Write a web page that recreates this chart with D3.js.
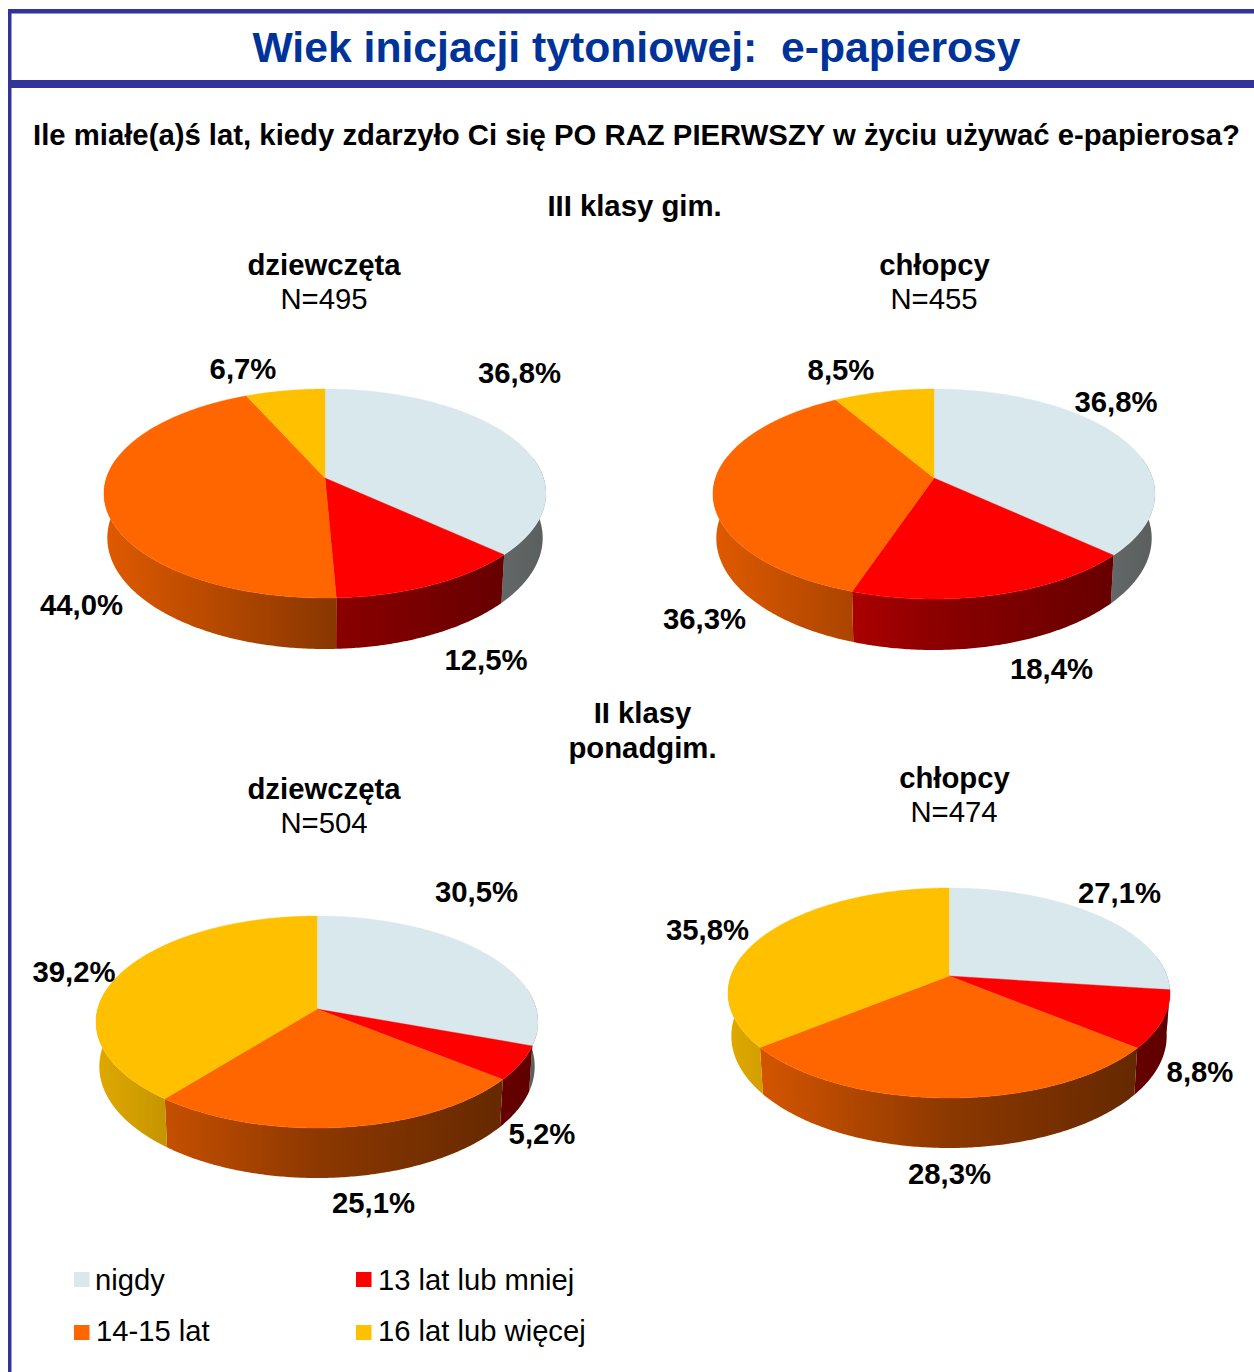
<!DOCTYPE html>
<html><head><meta charset="utf-8">
<script src="https://cdn.jsdelivr.net/npm/d3@7"></script>
<style>html,body{margin:0;padding:0;background:#fff}svg{display:block}text{font-family:"Liberation Sans",Arial,sans-serif}</style>
</head><body><div id="c"></div>
<script>
const categories = ["nigdy","13 lat lub mniej","14-15 lat","16 lat lub więcej"];
const valuesGimGirls = [36.8,12.5,44.0,6.7];
const valuesGimBoys = [36.8,18.4,36.3,8.5];
const valuesPonGirls = [30.5,5.2,25.1,39.2];
const valuesPonBoys = [27.1,8.8,28.3,35.8];
const colors = ["#D9E8EC","#FF0000","#FF6600","#FFC000"];
const wallColors = ["#F4FFFF","#FF0000","#FF6600","#FFC000"];

// layout: ellipse geometry and label anchors, kept apart from the data
const pies = [
 {id:"a",values:valuesGimGirls,cx:325,hw:221,top:389,apex:478,bot:598,drop:51,
  labels:[[519.5,383],[486,670],[81.5,615],[243,379]]},
 {id:"b",values:valuesGimBoys,cx:934,hw:221,top:389,apex:478,bot:599,drop:51,
  labels:[[1116,412],[1051.5,679],[704.5,629],[841,380]]},
 {id:"c",values:valuesPonGirls,cx:317,hw:221,top:916,apex:1009,bot:1128,drop:50,
  labels:[[476.5,902],[542,1144],[373.5,1213],[74,982]]},
 {id:"d",values:valuesPonBoys,cx:949,hw:221,top:888,apex:976,bot:1098,drop:50,
  labels:[[1119.5,903],[1200,1082],[949.5,1184],[707.5,940]]}
];
const headings = [
 ["III klasy gim.",634.5,216,true],
 ["dziewczęta",324,275,true],["N=495",324,309,false],
 ["chłopcy",934.5,275,true],["N=455",934,309,false],
 ["II klasy",642.5,723,true],["ponadgim.",642.5,758,true],
 ["dziewczęta",324,799,true],["N=504",324,833,false],
 ["chłopcy",954.5,788,true],["N=474",954,822,false]
];
const legendPos = [[74,1272,95,1290],[356,1272,378,1290],[74,1325,96,1341],[356,1325,378,1341]];

const W=1254,H=1372,frame="#333399";
const svg=d3.select("#c").append("svg").attr("width",W).attr("height",H);
const defs=svg.append("defs");

// frame
[[8,9,W-8,4.5],[8,80,W-8,8],[8,9,3.5,H-9]].forEach(r=>svg.append("rect")
  .attr("x",r[0]).attr("y",r[1]).attr("width",r[2]).attr("height",r[3]).attr("fill",frame));

svg.append("text").attr("x",636.5).attr("y",62).attr("text-anchor","middle")
  .attr("font-size",42.7).attr("font-weight","bold").attr("fill","#003399")
  .attr("xml:space","preserve").style("white-space","pre")
  .text("Wiek inicjacji tytoniowej:  e-papierosy");
svg.append("text").attr("x",636.5).attr("y",145).attr("text-anchor","middle")
  .attr("font-size",29.3).attr("font-weight","bold").attr("fill","#000")
  .text("Ile miałe(a)ś lat, kiedy zdarzyło Ci się PO RAZ PIERWSZY w życiu używać e-papierosa?");

headings.forEach(h=>svg.append("text").attr("x",h[1]).attr("y",h[2]).attr("text-anchor","middle")
  .attr("font-size",29.3).attr("font-weight",h[3]?"bold":"normal").attr("fill","#000").text(h[0]));

const pieGen=d3.pie().sort(null).value(d=>d).startAngle(0).endAngle(2*Math.PI);
const line=d3.line();
const bottomScale=0.985; // the lower rim sits farther from the viewer

pies.forEach(p=>{
  // perspective projection of the unit disc onto the page
  const C=(2*p.apex-p.top-p.bot)/(p.top-p.bot);
  const B=p.top*(1+C)-p.apex;
  const rx=p.hw*Math.sqrt(1-C*C);
  const h=p.drop*(1-C);
  const proj=(a,r,z)=>{const t=r*Math.cos(a),s=r*Math.sin(a),d=1+C*t;
    return [p.cx+rx*s/d*(z?bottomScale:1),(p.apex+B*t)/d+(z?h/d:0)];};
  const samples=(a0,a1)=>{const n=Math.max(2,Math.ceil((a1-a0)/0.01));
    return d3.range(n+1).map(i=>a0+(a1-a0)*i/n);};
  const arcs=pieGen(p.values);
  const g=svg.append("g");
  // shaded side wall; brightness falls from left to right across the whole pie
  const shade=d3.scaleLinear().domain([0,0.5,1]).range([0.88,0.55,0.37]);
  wallColors.forEach((c,i)=>{
    const gr=defs.append("linearGradient").attr("id",`g${p.id}${i}`)
      .attr("gradientUnits","userSpaceOnUse")
      .attr("x1",p.cx-p.hw).attr("x2",p.cx+p.hw).attr("y1",0).attr("y2",0);
    [0,0.25,0.5,0.75,1].forEach(o=>{const k=c3=>Math.round(c3*shade(o));const q=d3.rgb(c);
      gr.append("stop").attr("offset",o).attr("stop-color",d3.rgb(k(q.r),k(q.g),k(q.b)).formatHex());});
  });
  const f0=Math.PI/2-0.2,f1=3*Math.PI/2+0.2;
  arcs.forEach((d,i)=>{
    const a0=Math.max(d.startAngle,f0),a1=Math.min(d.endAngle,f1);
    if(a1<=a0)return;
    const s=samples(a0,a1);
    const pts=s.map(a=>proj(a,1,false)).concat(s.slice().reverse().map(a=>proj(a,1,true)));
    g.append("path").attr("d",line(pts)+"Z").attr("fill",`url(#g${p.id}${i})`);
  });
  arcs.forEach((d,i)=>{
    const pts=[proj(0,0,false)].concat(samples(d.startAngle,d.endAngle).map(a=>proj(a,1,false)));
    g.append("path").attr("d",line(pts)+"Z").attr("fill",colors[i])
      .attr("stroke",colors[i]).attr("stroke-width",0.4);
  });
  p.values.forEach((v,i)=>svg.append("text").attr("x",p.labels[i][0]).attr("y",p.labels[i][1])
    .attr("text-anchor","middle").attr("font-size",29.3).attr("font-weight","bold").attr("fill","#000")
    .text(d3.format(".1f")(v).replace(".",",")+"%"));
});

categories.forEach((c,i)=>{const l=legendPos[i];
  svg.append("rect").attr("x",l[0]).attr("y",l[1]).attr("width",15.5).attr("height",15).attr("fill",colors[i]);
  svg.append("text").attr("x",l[2]).attr("y",l[3]).attr("font-size",29.2).attr("fill","#000").text(c);
});
</script></body></html>
